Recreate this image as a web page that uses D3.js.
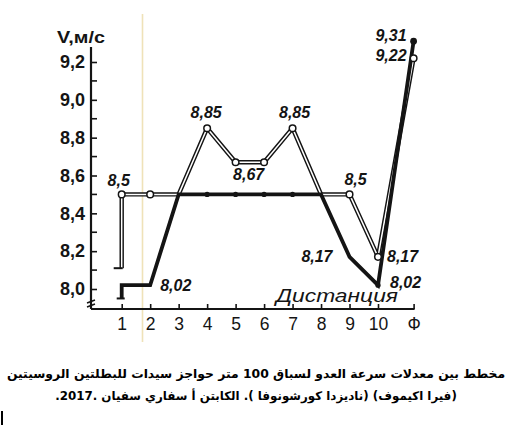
<!DOCTYPE html>
<html>
<head>
<meta charset="utf-8">
<script src="https://cdn.jsdelivr.net/npm/d3@7"></script>
<style>
  body { margin: 0; background: #fff; }
  svg { display: block; }
</style>
</head>
<body>
<div id="chart"></div>
<script>
// distance marks of the race, "Ф" = finish
const distLabels = ["1", "2", "3", "4", "5", "6", "7", "8", "9", "10", "Ф"];
const distPos = [1, 2, 3, 4, 5, 6, 7, 8, 9, 10, 11.25];

// hollow (double line) runner
const openStart = 8.11;
const openValues = [8.5, 8.5, 8.5, 8.85, 8.67, 8.67, 8.85, 8.5, 8.5, 8.17, 9.22];

// solid runner
const solidStart = 7.95;
const solidValues = [8.02, 8.02, 8.5, 8.5, 8.5, 8.5, 8.5, 8.5, 8.17, 8.02, 9.31];

const yMajor = [8.0, 8.2, 8.4, 8.6, 8.8, 9.0, 9.2];
const yMinor = [8.1, 8.3, 8.5, 8.7, 8.9, 9.1];

const yTitle = "V,м/с";
const xTitle = "Дистанция";
const caption1 = "مخطط بين معدلات سرعة العدو لسباق 100 متر حواجز سيدات للبطلتين الروسيتين";
const caption2 = "(فيرا اكيموف)  (ناديزدا كورشونوفا ). الكابتن أ سفاري سفيان .2017.";

function drawChart() {
    const width = 516, height = 425;
    const ink = "#141414";
    const fmt = v => d3.format(".2~f")(v).replace(".", ",");

    const svg = d3.select("#chart").append("svg")
        .attr("width", width)
        .attr("height", height);

    // scales
    const x = d3.scaleLinear().domain([1, 10]).range([121.7, 378]);
    const y = d3.scaleLinear().domain([8.0, 9.2]).range([289, 62]);

    const axisX = 91, axisY = 309;

    // faint fold line of the scanned page
    svg.append("line")
        .attr("x1", 142.5).attr("x2", 142.5)
        .attr("y1", 14).attr("y2", 342)
        .style("stroke", "#efe2b8")
        .style("stroke-width", 1.6);

    // y axis
    const yAxis = d3.axisLeft(y)
        .tickValues(yMajor)
        .tickSizeInner(-6)
        .tickSizeOuter(0)
        .tickPadding(6);

    const gy = svg.append("g")
        .attr("transform", `translate(${axisX},0)`)
        .call(yAxis);
    gy.select(".domain").remove();
    gy.selectAll(".tick line").style("stroke", ink).style("stroke-width", 1.6);
    gy.selectAll(".tick text")
        .style("font-family", "Liberation Sans, Arial, sans-serif")
        .style("font-size", "18px")
        .style("font-weight", "bold")
        .style("fill", ink)
        .text(d => d3.format(".1f")(d).replace(".", ","));

    gy.selectAll(".minor")
        .data(yMinor)
        .enter()
        .append("line")
        .attr("class", "minor")
        .attr("x1", 0).attr("x2", 6)
        .attr("y1", d => y(d)).attr("y2", d => y(d))
        .style("stroke", ink)
        .style("stroke-width", 1.6);

    svg.append("line")
        .attr("x1", axisX).attr("x2", axisX)
        .attr("y1", 47).attr("y2", axisY)
        .style("stroke", ink)
        .style("stroke-width", 2.2);

    // axis break mark
    svg.append("path")
        .attr("d", `M${axisX - 4},${axisY - 6} l8,-3 M${axisX - 4},${axisY - 2} l8,-3`)
        .style("stroke", ink)
        .style("stroke-width", 1.5)
        .style("fill", "none");

    // x axis
    const xAxis = d3.axisBottom(x)
        .tickValues(distPos)
        .tickSizeInner(-5)
        .tickSizeOuter(0)
        .tickPadding(9)
        .tickFormat((d, i) => distLabels[i]);

    const gx = svg.append("g")
        .attr("transform", `translate(0,${axisY})`)
        .call(xAxis);
    gx.select(".domain").remove();
    gx.selectAll(".tick line").style("stroke", ink).style("stroke-width", 1.6);
    gx.selectAll(".tick text")
        .style("font-family", "Liberation Sans, Arial, sans-serif")
        .style("font-size", "17.5px")
        .style("fill", ink);

    svg.append("line")
        .attr("x1", axisX).attr("x2", x(distPos[distPos.length - 1]) + 1)
        .attr("y1", axisY).attr("y2", axisY)
        .style("stroke", ink)
        .style("stroke-width", 2.2);

    // axis titles
    svg.append("text")
        .attr("x", 57).attr("y", 43)
        .attr("textLength", 48)
        .attr("lengthAdjust", "spacingAndGlyphs")
        .style("font-family", "Liberation Sans, Arial, sans-serif")
        .style("font-size", "17px")
        .style("font-weight", "bold")
        .style("fill", ink)
        .text(yTitle);

    svg.append("text")
        .attr("x", 276).attr("y", 302)
        .attr("textLength", 122)
        .attr("lengthAdjust", "spacingAndGlyphs")
        .style("font-family", "Liberation Sans, Arial, sans-serif")
        .style("font-size", "19px")
        .style("font-style", "italic")
        .style("fill", ink)
        .text(xTitle);

    // points
    const openPts = [{ x: 1, v: openStart }].concat(openValues.map((v, i) => ({ x: distPos[i], v })));
    const solidPts = [{ x: 1, v: solidStart }].concat(solidValues.map((v, i) => ({ x: distPos[i], v })));

    const line = d3.line()
        .x(d => x(d.x))
        .y(d => y(d.v));

    // hollow line: dark outline with white core
    svg.append("path")
        .datum(openPts)
        .attr("d", line)
        .style("fill", "none")
        .style("stroke", ink)
        .style("stroke-width", 4.4)
        .style("stroke-linejoin", "round");
    svg.append("path")
        .datum(openPts)
        .attr("d", line)
        .style("fill", "none")
        .style("stroke", "#fff")
        .style("stroke-width", 1.5)
        .style("stroke-linejoin", "round");

    // start caps
    svg.append("line")
        .attr("x1", x(1) - 8).attr("x2", x(1) + 1)
        .attr("y1", y(openStart)).attr("y2", y(openStart))
        .style("stroke", ink).style("stroke-width", 2);

    // solid line
    svg.append("path")
        .datum(solidPts)
        .attr("d", line)
        .style("fill", "none")
        .style("stroke", ink)
        .style("stroke-width", 3.8)
        .style("stroke-linejoin", "miter");

    svg.append("line")
        .attr("x1", x(1) - 5).attr("x2", x(1) + 3)
        .attr("y1", y(solidStart)).attr("y2", y(solidStart))
        .style("stroke", ink).style("stroke-width", 2);

    // solid dots
    const solidDots = [3, 4, 5, 6, 9, 10];
    svg.selectAll(".sdot")
        .data(solidDots)
        .enter()
        .append("circle")
        .attr("class", "sdot")
        .attr("cx", i => x(distPos[i]))
        .attr("cy", i => y(solidValues[i]))
        .attr("r", i => i === 10 ? 3.4 : 2.6)
        .style("fill", ink);

    // open circles
    const openDots = [0, 1, 3, 4, 5, 6, 8, 9, 10];
    svg.selectAll(".odot")
        .data(openDots)
        .enter()
        .append("circle")
        .attr("class", "odot")
        .attr("cx", i => x(distPos[i]))
        .attr("cy", i => y(openValues[i]))
        .attr("r", 3.3)
        .style("fill", "#fff")
        .style("stroke", ink)
        .style("stroke-width", 1.5);

    // value labels
    const labels = [
        { s: "open", i: 0, dx: -3, dy: -8, a: "middle" },
        { s: "solid", i: 1, dx: 10, dy: 6, a: "start" },
        { s: "open", i: 3, dx: -1, dy: -10, a: "middle" },
        { s: "open", i: 4, dx: 13, dy: 18, a: "middle" },
        { s: "open", i: 6, dx: 2, dy: -10, a: "middle" },
        { s: "open", i: 8, dx: 6, dy: -9, a: "middle" },
        { s: "solid", i: 8, dx: -17, dy: 5, a: "end" },
        { s: "open", i: 9, dx: 9, dy: 5, a: "start" },
        { s: "solid", i: 9, dx: 12, dy: 3, a: "start" },
        { s: "solid", i: 10, dx: -7, dy: 0, a: "end" },
        { s: "open", i: 10, dx: -7, dy: 3, a: "end" }
    ];

    svg.selectAll(".vlabel")
        .data(labels)
        .enter()
        .append("text")
        .attr("class", "vlabel")
        .attr("x", d => x(distPos[d.i]) + d.dx)
        .attr("y", d => y((d.s === "open" ? openValues : solidValues)[d.i]) + d.dy)
        .attr("text-anchor", d => d.a)
        .style("font-family", "Liberation Sans, Arial, sans-serif")
        .style("font-size", "16px")
        .style("font-style", "italic")
        .style("font-weight", "bold")
        .style("fill", ink)
        .text(d => fmt((d.s === "open" ? openValues : solidValues)[d.i]));

    // caption, font size fitted to the width of each line
    const cap = svg.append("g")
        .style("font-family", "DejaVu Sans, sans-serif")
        .style("font-weight", "bold")
        .style("fill", "#000");

    [[caption1, 378, 498], [caption2, 400, 402]].forEach(([txt, yy, w]) => {
        const t = cap.append("text")
            .attr("x", 256).attr("y", yy)
            .attr("direction", "rtl")
            .attr("text-anchor", "middle")
            .style("font-size", "14px")
            .text(txt);
        const len = t.node().getComputedTextLength();
        t.style("font-size", (14 * w / len).toFixed(2) + "px");
    });

    // stray mark at bottom left of the scan
    svg.append("rect")
        .attr("x", 1).attr("y", 411)
        .attr("width", 2).attr("height", 14)
        .style("fill", "#000");
}

drawChart();
</script>
</body>
</html>
